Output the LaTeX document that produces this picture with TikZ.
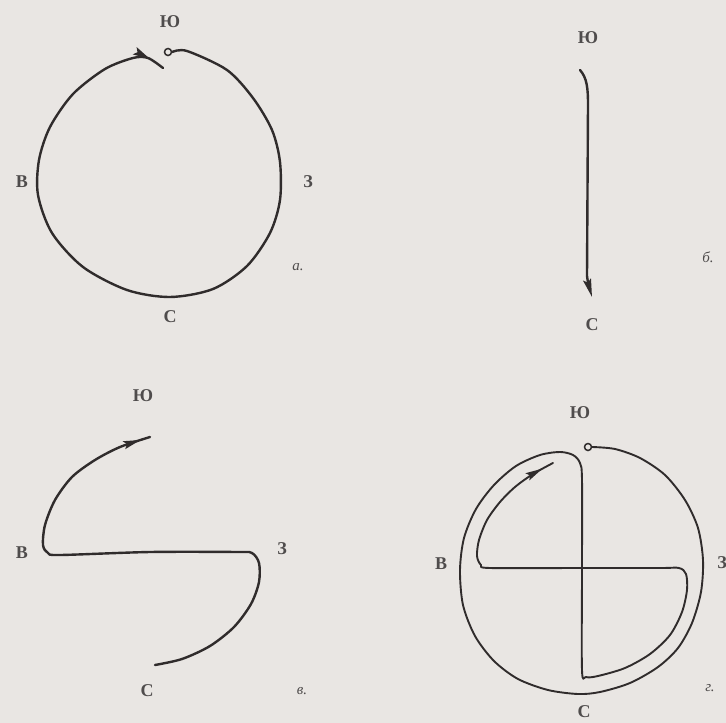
\documentclass[tikz,border=0pt]{standalone}
\usepackage{fontspec}
\setmainfont{Liberation Serif}
\usetikzlibrary{arrows.meta, decorations.markings}

\definecolor{paper}{RGB}{233,230,227}
\definecolor{ink}{RGB}{48,44,44}

\begin{document}
\begin{tikzpicture}[
  x=1pt, y=-1pt,
  font=\fontsize{18}{18}\selectfont\bfseries,
  % Estilos de letras
  side/.style={text=ink!85, inner sep=0pt},
  tag/.style={text=ink!85, inner sep=0pt, font=\fontsize{15}{15}\selectfont\itshape},
  % Estilos de trazos
  track/.style={draw=ink, line width=2.4pt, line cap=round, line join=round},
  thintrack/.style={track, line width=1.9pt},
  ring/.style={draw=ink, circle, line width=1.5pt, minimum size=7pt, inner sep=0pt},
  midarrow/.style={postaction={decorate}, decoration={markings,
      mark=at position #1 with {\arrow{Stealth[length=17pt, width=8pt, inset=3pt]}}}}
]

  \fill[paper] (0,0) rectangle (726,723);
  \useasboundingbox (0,0) rectangle (726,723);

  % ==========================================
  % a.
  % ==========================================
  \node[side] (aS) at (170,22) {Ю};
  \node[side] (aE) at (22,182) {В};
  \node[side] (aW) at (308,182) {З};
  \node[side] (aN) at (170,317) {С};
  \node[tag] (aTag) at (298,267) {а.};
  \node[ring] (aRing) at (168,52) {};
  \draw[track, midarrow=-16pt] plot[smooth] coordinates {
    (aRing.east) (187,51) (227,70) (253,98) (272,130) (280,162) (280,200)
    (270,233) (247,266) (213,289) (170,297) (127,290) (83,267) (52,233)
    (38,195) (39,160) (50,127) (73,94) (105,69) (133,58) (148,58) (163,68)};

  % ==========================================
  % б.
  % ==========================================
  \node[side] (bS) at (588,38) {Ю};
  \node[side] (bN) at (592,325) {С};
  \node[tag] (bTag) at (708,257) {б.};
  \draw[track, -{Stealth[length=18pt, width=8pt, inset=3pt]}]
    (580,70) .. controls (587,78) and (588,88) .. (588,105)
    -- (587,276) .. controls (588,284) and (590,290) .. (592,297);

  % ==========================================
  % в.
  % ==========================================
  \node[side] (cS) at (143,396) {Ю};
  \node[side] (cE) at (22,553) {В};
  \node[side] (cW) at (282,549) {З};
  \node[side] (cN) at (147,691) {С};
  \node[tag] (cTag) at (302,691) {в.};
  \draw[track, midarrow=-10pt] plot[smooth] coordinates {
    (155,665) (182,659) (210,646) (234,627) (251,604) (259,582) (259,563)
    (252,553) (238,552) (150,552) (60,555) (48,553) (43,545) (45,525)
    (55,500) (72,477) (95,460) (120,447) (150,437)};

  % ==========================================
  % г.
  % ==========================================
  \node[side] (dS) at (580,413) {Ю};
  \node[side] (dE) at (441,564) {В};
  \node[side] (dW) at (722,563) {З};
  \node[side] (dN) at (584,712) {С};
  \node[tag] (dTag) at (710,688) {г.};
  \node[ring] (dRing) at (588,447) {};
  \draw[thintrack, midarrow=-12pt] plot[smooth] coordinates {
    (dRing.east) (615,449) (640,458) (665,475) (685,500) (698,528) (703,560)
    (701,592) (692,623) (678,648) (658,667) (630,683) (600,692) (578,694)
    (548,690) (518,679) (494,661) (475,636) (463,605) (460,570) (464,538)
    (476,509) (494,485) (516,466) (540,455) (560,452) (573,455) (580,463)
    (582,480) (582,570) (582,670) (586,677) (598,676) (625,668) (650,654)
    (670,635) (682,612) (687,590) (686,574) (679,568) (660,568) (580,568)
    (490,568) (481,565) (477,556) (479,540) (487,520) (500,502) (515,487)
    (533,474) (553,463)};

\end{tikzpicture}
\end{document}
